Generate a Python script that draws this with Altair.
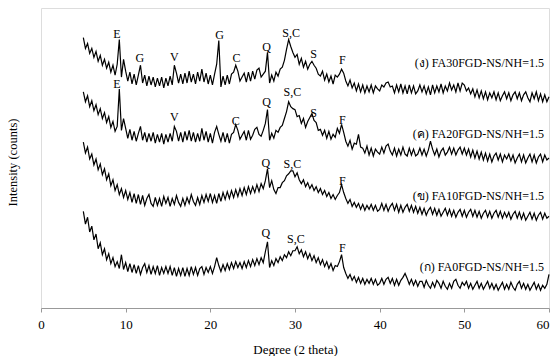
import altair as alt
import pandas as pd

# Scan grid: 5.00 to 60.00 degrees (2 theta), step 0.25
START_DEG = 5.0
STEP_DEG = 0.25

# Intensities (offset, arbitrary counts), 20 values per 5 degrees
fa30 = [
    274, 263, 268, 258, 263, 254, 260, 250, 256, 246, 252, 243, 249, 239, 246, 236, 247, 272, 234, 252,
    240, 230, 239, 227, 237, 226, 236, 246, 228, 236, 225, 235, 226, 234, 224, 233, 225, 234, 223, 233,
    225, 235, 226, 246, 238, 228, 237, 227, 238, 228, 240, 229, 237, 227, 239, 230, 242, 229, 238, 227,
    236, 226, 237, 247, 271, 224, 235, 226, 236, 227, 237, 239, 246, 240, 230, 234, 238, 229, 239, 230,
    240, 232, 241, 243, 234, 237, 240, 259, 228, 236, 230, 239, 235, 242, 244, 251, 262, 272, 265, 259,
    254, 257, 247, 253, 244, 250, 242, 247, 250, 246, 243, 237, 235, 240, 231, 237, 229, 235, 227, 236,
    234, 237, 242, 238, 230, 225, 231, 223, 228, 220, 227, 219, 226, 218, 225, 219, 226, 218, 225, 222,
    220, 226, 224, 228, 229, 224, 225, 218, 226, 219, 227, 218, 225, 217, 226, 218, 225, 217, 220, 226,
    219, 225, 217, 224, 216, 226, 218, 225, 219, 227, 218, 225, 220, 228, 221, 226, 219, 228, 220, 228,
    226, 220, 223, 217, 222, 214, 221, 213, 220, 212, 219, 211, 218, 213, 219, 211, 218, 210, 215, 219,
    212, 218, 210, 216, 219, 212, 218, 210, 216, 219, 213, 209, 218, 212, 219, 210, 217, 209, 216, 209,
    214,
]

fa20 = [
    219, 209, 215, 204, 210, 200, 206, 196, 202, 192, 198, 188, 194, 183, 189, 179, 184, 222, 180, 192,
    182, 172, 181, 170, 179, 169, 177, 184, 170, 178, 168, 177, 169, 178, 167, 176, 168, 177, 166, 176,
    168, 177, 169, 184, 179, 169, 178, 168, 179, 170, 180, 169, 178, 168, 177, 169, 182, 170, 179, 168,
    177, 167, 178, 184, 176, 169, 178, 168, 177, 167, 176, 178, 186, 180, 171, 175, 179, 170, 180, 171,
    175, 181, 183, 176, 174, 180, 187, 201, 170, 177, 172, 180, 178, 183, 185, 192, 199, 209, 204, 202,
    201, 194, 195, 187, 192, 183, 189, 193, 197, 190, 188, 180, 181, 175, 180, 172, 179, 171, 176, 173,
    182, 177, 186, 178, 169, 164, 170, 161, 167, 166, 176, 163, 162, 157, 164, 155, 162, 154, 161, 158,
    156, 163, 157, 164, 166, 159, 155, 162, 154, 161, 155, 163, 156, 154, 162, 155, 161, 154, 156, 162,
    155, 161, 154, 160, 169, 161, 155, 161, 153, 159, 162, 155, 158, 163, 156, 162, 155, 160, 163, 156,
    162, 155, 161, 153, 160, 152, 159, 151, 158, 150, 157, 149, 156, 148, 154, 157, 150, 156, 148, 155,
    151, 156, 149, 155, 147, 152, 156, 148, 155, 147, 152, 156, 148, 155, 147, 153, 156, 148, 155, 150,
    152,
]

fa10 = [
    168, 157, 163, 151, 156, 145, 151, 140, 146, 135, 141, 130, 136, 124, 130, 119, 125, 115, 121, 112,
    119, 110, 117, 107, 116, 106, 115, 105, 114, 104, 111, 115, 106, 103, 112, 104, 111, 103, 113, 106,
    112, 103, 111, 105, 114, 107, 103, 111, 104, 112, 106, 115, 108, 104, 112, 105, 114, 107, 115, 108,
    116, 107, 114, 106, 116, 108, 117, 110, 118, 111, 119, 112, 120, 113, 121, 114, 122, 115, 123, 116,
    123, 117, 125, 118, 126, 121, 129, 141, 122, 129, 120, 116, 122, 122, 127, 129, 134, 136, 139, 139,
    133, 137, 130, 126, 130, 123, 127, 121, 125, 119, 123, 117, 121, 115, 119, 113, 117, 111, 115, 110,
    114, 117, 125, 117, 111, 106, 110, 103, 107, 102, 106, 100, 105, 99, 104, 100, 105, 99, 104, 98,
    100, 106, 99, 105, 98, 103, 106, 99, 105, 97, 104, 97, 102, 105, 98, 104, 97, 103, 96, 102,
    95, 101, 94, 99, 102, 95, 101, 94, 100, 93, 97, 101, 94, 100, 93, 99, 92, 97, 100, 93,
    99, 92, 97, 100, 93, 99, 92, 98, 91, 96, 99, 92, 98, 91, 96, 99, 92, 98, 91, 97,
    92, 97, 90, 95, 98, 91, 97, 90, 96, 89, 93, 97, 90, 96, 89, 94, 97, 90, 96, 91,
    93,
]

fa0 = [
    98, 85, 92, 77, 83, 69, 75, 60, 66, 54, 60, 49, 55, 45, 51, 42, 47, 40, 54, 39,
    46, 37, 45, 36, 44, 35, 43, 34, 41, 45, 36, 43, 34, 42, 35, 43, 33, 41, 35, 42,
    35, 42, 33, 41, 32, 40, 33, 41, 32, 40, 33, 42, 34, 41, 33, 40, 42, 34, 41, 36,
    42, 35, 42, 51, 43, 37, 44, 38, 45, 39, 46, 40, 47, 41, 46, 40, 47, 41, 48, 42,
    49, 43, 50, 44, 51, 46, 57, 67, 41, 48, 43, 50, 46, 52, 48, 54, 51, 57, 53, 58,
    58, 62, 55, 59, 52, 57, 50, 55, 48, 53, 46, 51, 44, 49, 42, 47, 40, 45, 38, 43,
    42, 47, 54, 41, 35, 30, 34, 28, 32, 26, 31, 25, 30, 24, 29, 25, 30, 24, 29, 23,
    25, 30, 24, 29, 31, 25, 30, 23, 29, 23, 28, 31, 35, 30, 24, 29, 23, 28, 22, 27,
    27, 21, 28, 23, 20, 26, 21, 28, 25, 20, 27, 22, 19, 25, 20, 27, 29, 23, 20, 26,
    23, 27, 20, 25, 19, 23, 27, 20, 25, 19, 23, 27, 20, 25, 19, 24, 18, 22, 26, 19,
    24, 19, 26, 21, 18, 24, 27, 20, 25, 19, 24, 18, 22, 26, 19, 24, 18, 23, 20, 24,
    34,
]

series_names = ["FA30", "FA20", "FA10", "FA0"]

# Peak annotations
peak_text = ["E", "G", "V", "G", "C", "Q", "S,C", "S", "F",
             "E", "V", "C", "Q", "S,C", "S", "F",
             "Q", "S,C", "F",
             "Q", "S,C", "F"]
peak_x = [8.96, 11.67, 15.75, 21.1, 23.1, 26.65, 29.55, 32.2, 35.6,
          8.96, 15.75, 23.0, 26.65, 29.7, 32.2, 35.6,
          26.55, 29.7, 35.6,
          26.55, 30.1, 35.6]
peak_y = [278, 253, 254, 277, 253, 264, 279, 257, 251,
          227, 194, 190, 209, 219, 198, 191,
          147, 146, 129,
          76, 70, 61]

# Sample labels
sample_text = ["(ง) FA30FGD-NS/NH=1.5", "(ค) FA20FGD-NS/NH=1.5",
               "(ข) FA10FGD-NS/NH=1.5", "(ก) FA0FGD-NS/NH=1.5"]
sample_x = [59.4, 59.4, 59.4, 59.4]
sample_y = [248, 176, 114, 42]

rows = []
for name, vals in zip(series_names, [fa30, fa20, fa10, fa0]):
    for i, v in enumerate(vals):
        rows.append({"deg": START_DEG + STEP_DEG * i, "I": v, "sample": name})
df = pd.DataFrame(rows)

peaks = pd.DataFrame({"t": peak_text, "x": peak_x, "y": peak_y})
samples = pd.DataFrame({"t": sample_text, "x": sample_x, "y": sample_y})

FONT = "Liberation Serif, serif"

xs = alt.Scale(domain=[0, 60], nice=False)
ys = alt.Scale(domain=[0, 304], nice=False)

lines = alt.Chart(df).mark_line(color="black", strokeWidth=1.2).encode(
    x=alt.X("deg:Q", scale=xs, title="Degree (2 theta)",
            axis=alt.Axis(values=[0, 10, 20, 30, 40, 50, 60], format="d",
                          grid=False, tickSize=4, tickColor="#999",
                          domainColor="#999", labelFont=FONT, labelFontSize=13,
                          labelColor="black", labelPadding=6, labelFlush=False,
                          labelAlign=alt.expr("datum.value >= 60 ? 'right' : 'center'"),
                          titleFont=FONT, titleFontSize=13, titleFontWeight="normal",
                          titleColor="black", titlePadding=12)),
    y=alt.Y("I:Q", scale=ys, title="Intensity (counts)",
            axis=alt.Axis(labels=False, ticks=False, domain=False, grid=False,
                          titleFont=FONT, titleFontSize=12.5, titleFontWeight="normal",
                          titleColor="black", titlePadding=22, titleY=154)),
    detail="sample:N",
)

peak_marks = alt.Chart(peaks).mark_text(font=FONT, fontSize=12, color="black",
                                        baseline="middle", align="center").encode(
    x=alt.X("x:Q", scale=xs), y=alt.Y("y:Q", scale=ys), text="t:N")

sample_marks = alt.Chart(samples).mark_text(font=FONT, fontSize=12, color="black",
                                            baseline="middle", align="right").encode(
    x=alt.X("x:Q", scale=xs), y=alt.Y("y:Q", scale=ys), text="t:N")

chart = (lines + peak_marks + sample_marks).properties(
    width=508, height=300,
    autosize=alt.AutoSizeParams(type="none"),
    padding={"left": 33, "top": 0, "right": 1, "bottom": 48},
).configure_view(stroke="#999", strokeWidth=1).configure(background="white")

chart.save("out.html", embed_options={"renderer": "svg", "actions": False})
